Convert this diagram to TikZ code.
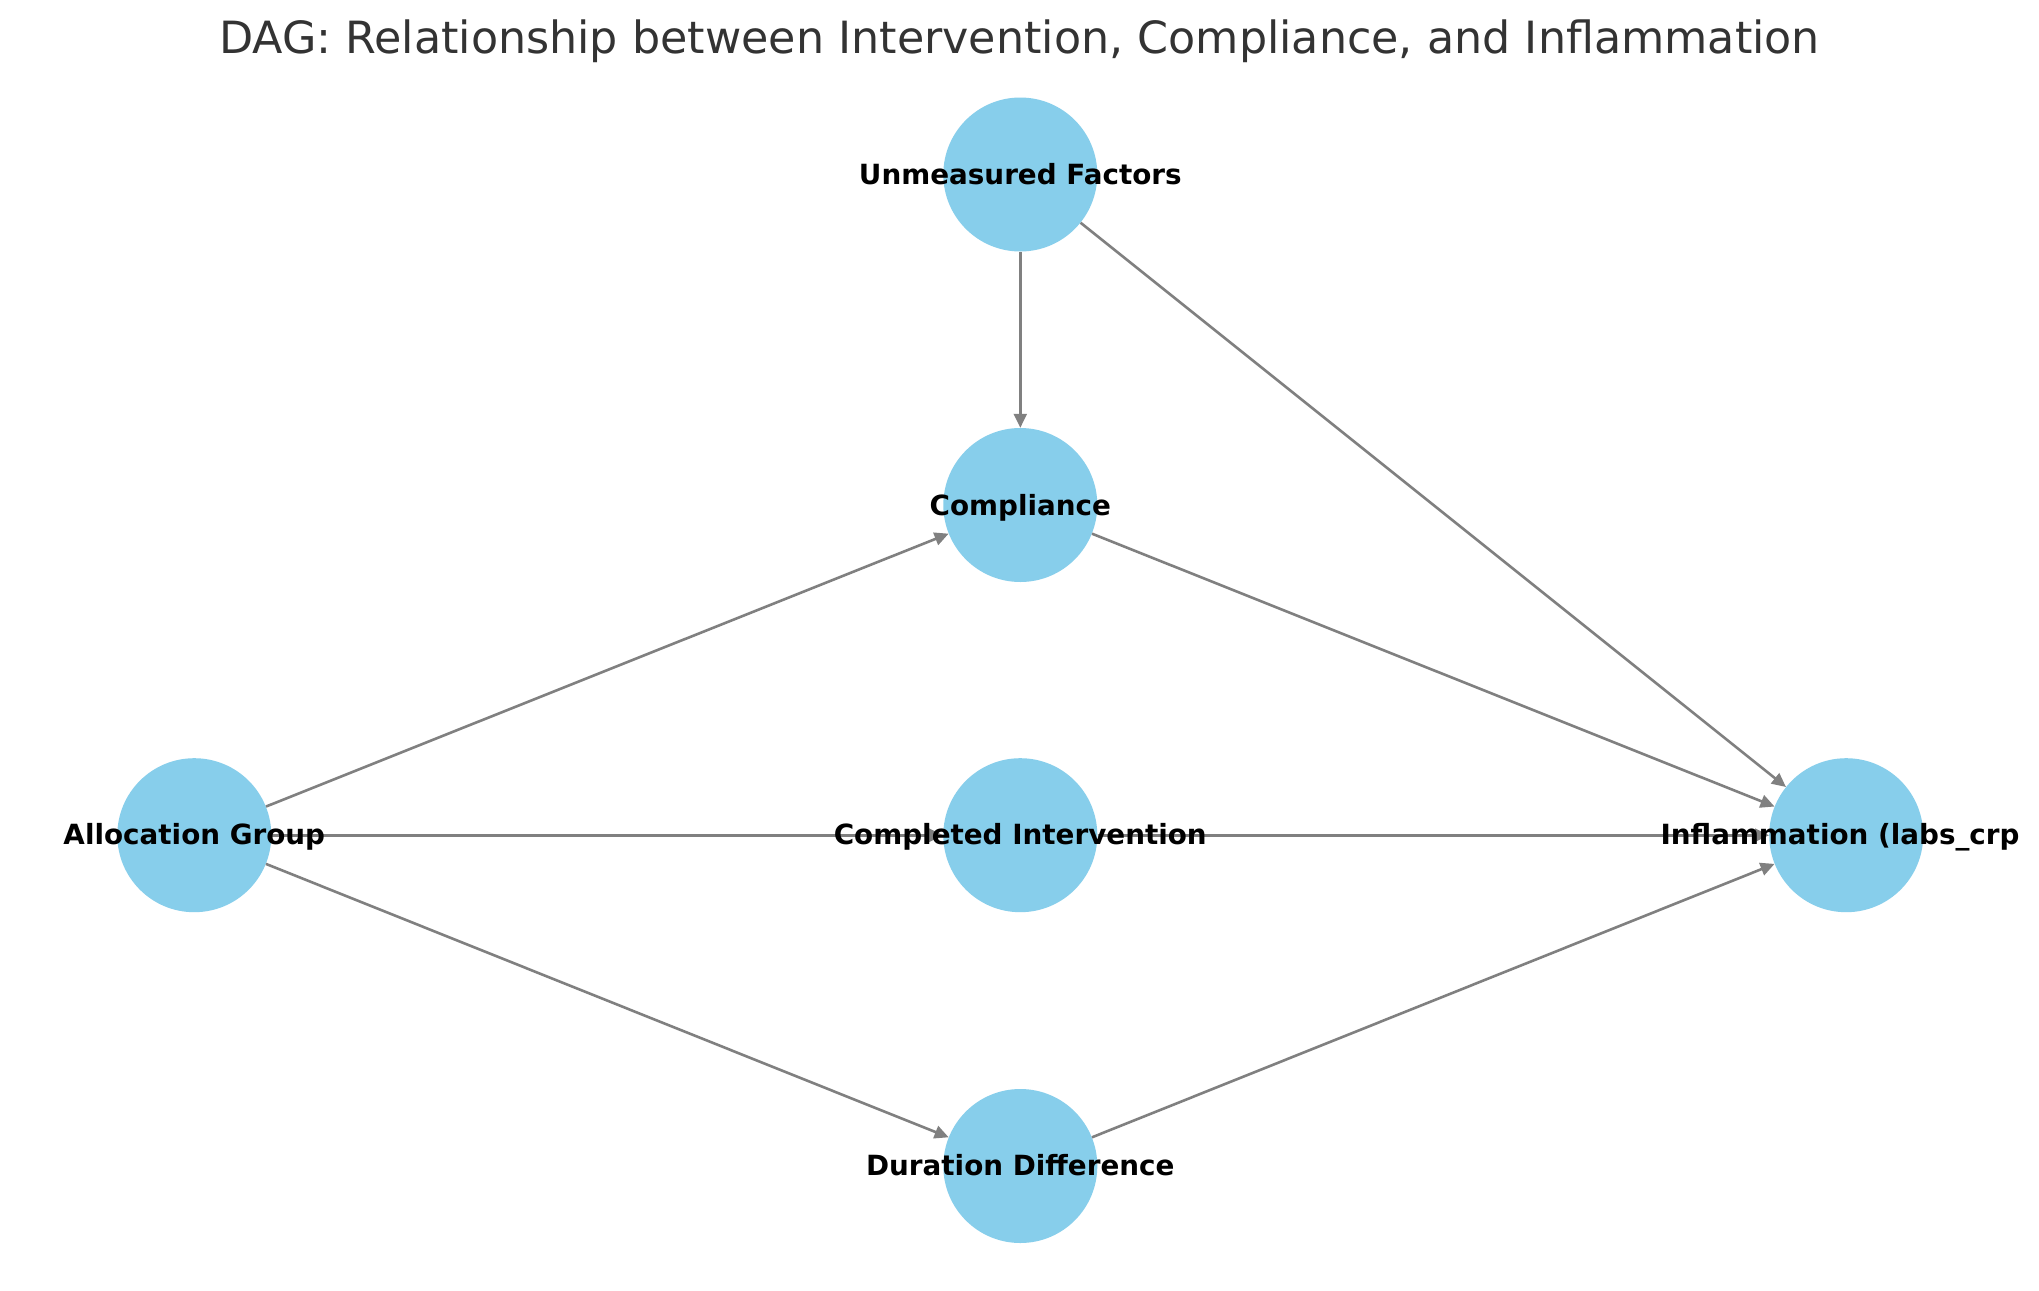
\documentclass[tikz,border=0pt]{standalone}
\usepackage{fontspec}
\setmainfont{DejaVu Sans}
\usetikzlibrary{arrows.meta}
\definecolor{skyblue}{HTML}{87CEEB}
\definecolor{edgegray}{HTML}{808080}
\definecolor{titlegray}{HTML}{333333}
\tikzset{
  dagnode/.style={circle, fill=skyblue, draw=none, inner sep=0pt, minimum size=154pt},
  daglabel/.style={anchor=base, inner sep=0pt, font=\fontsize{27.8}{33}\selectfont\bfseries, text=black},
  dagedge/.style={draw=edgegray, line width=2.6pt, -{Triangle[length=14pt, width=13pt]}},
}
\begin{document}
\begin{tikzpicture}[x=1pt, y=-1pt]
\useasboundingbox (0,0) rectangle (2039,1290);
\fill[white] (0,0) rectangle (2039,1290);
\node[anchor=base, inner sep=0pt, text=titlegray, font=\fontsize{44.4}{53}\selectfont] (title) at (1019.5,53) {DAG: Relationship between Intervention, Compliance, and Inflammation};
% nodes
\node[dagnode] (U) at (1020.3,174.5) {};
\node[dagnode] (C) at (1020.3,505) {};
\node[dagnode] (A) at (194.3,835.2) {};
\node[dagnode] (I) at (1020.3,835.2) {};
\node[dagnode] (F) at (1846.2,835.2) {};
\node[dagnode] (D) at (1020.3,1166) {};
% edges
\draw[dagedge] (U) -- (C);
\draw[dagedge] (U) -- (F);
\draw[dagedge] (C) -- (F);
\draw[dagedge] (A) -- (C);
\draw[dagedge] (A) -- (I);
\draw[dagedge] (A) -- (D);
\draw[dagedge] (I) -- (F);
\draw[dagedge] (D) -- (F);
% labels
\node[daglabel] (Ul) at (1020.3,184.5) {Unmeasured Factors};
\node[daglabel] (Cl) at (1020.3,515) {Compliance};
\node[daglabel] (Al) at (194.3,844.5) {Allocation Group};
\node[daglabel] (Il) at (1020.3,844.5) {Completed Intervention};
\node[daglabel] (Fl) at (1840,844.5) {Inflammation (labs\_crp};
\node[daglabel] (Dl) at (1020.3,1175.5) {Duration Difference};
\end{tikzpicture}
\end{document}
